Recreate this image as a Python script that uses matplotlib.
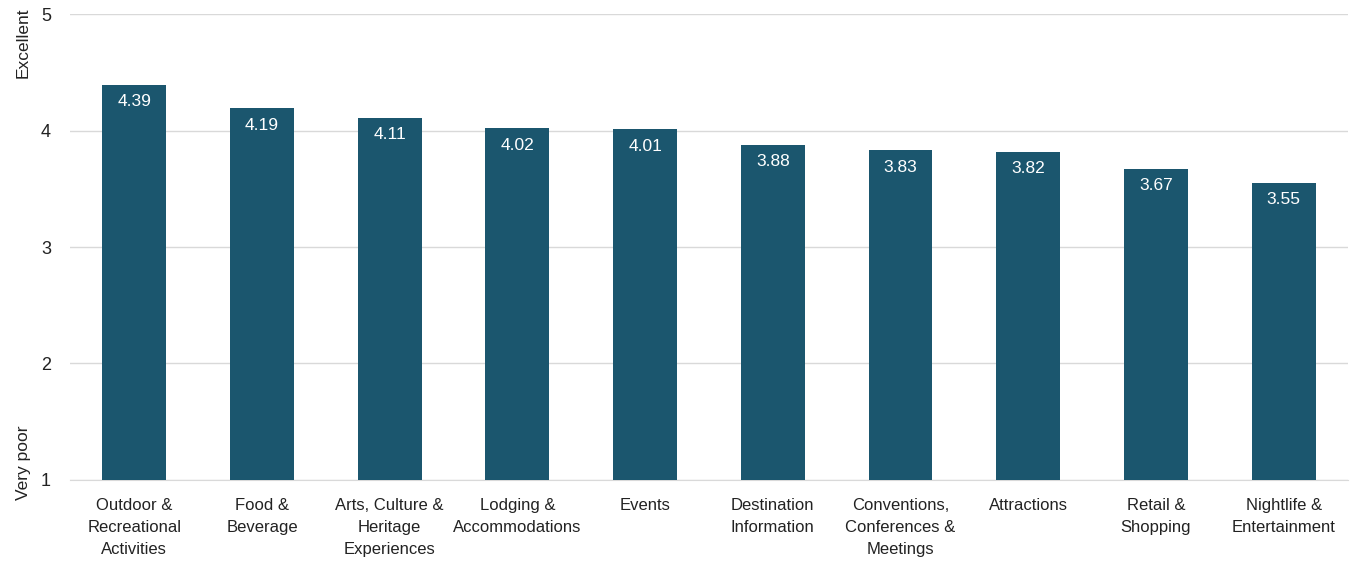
import matplotlib
matplotlib.use('Agg')
import matplotlib.pyplot as plt
from matplotlib import font_manager

categories = [
    'Outdoor &\nRecreational\nActivities',
    'Food &\nBeverage',
    'Arts, Culture &\nHeritage\nExperiences',
    'Lodging &\nAccommodations',
    'Events',
    'Destination\nInformation',
    'Conventions,\nConferences &\nMeetings',
    'Attractions',
    'Retail &\nShopping',
    'Nightlife &\nEntertainment',
]
ratings = [4.39, 4.19, 4.11, 4.02, 4.01, 3.88, 3.83, 3.82, 3.67, 3.55]
y_ticks = [1, 2, 3, 4, 5]

names = {f.name for f in font_manager.fontManager.ttflist}
family = 'Liberation Sans Narrow' if 'Liberation Sans Narrow' in names else 'Liberation Sans'
plt.rcParams['font.family'] = [family, 'DejaVu Sans']

bar_color = '#1b566e'
text_color = '#222222'

fig = plt.figure(figsize=(13.53, 5.64), dpi=100)
ax = fig.add_axes([0.052, 0.149, 0.944, 0.826])

x = range(len(categories))
ax.bar(x, [r - 1 for r in ratings], bottom=1, width=0.5, color=bar_color, zorder=3)

for xi, r in zip(x, ratings):
    ax.text(xi, r - 0.08, f'{r:.2f}', ha='center', va='top', color='white', fontsize=12.5)

ax.set_xlim(-0.5, len(categories) - 0.5)
ax.set_ylim(1, 5)
ax.set_yticks(y_ticks)
ax.set_yticklabels([str(t) for t in y_ticks], fontsize=13, color=text_color)
ax.set_xticks(list(x))
ax.set_xticklabels(categories, fontsize=12, color=text_color, linespacing=1.6)
ax.tick_params(axis='both', length=0)
ax.tick_params(axis='y', pad=14)
ax.tick_params(axis='x', pad=13)
ax.grid(axis='y', color='#d9d9d9', linewidth=1, zorder=0)
for side in ['top', 'right', 'left']:
    ax.spines[side].set_visible(False)
ax.spines['bottom'].set_color('#d9d9d9')

fig.text(0.017, 0.925, 'Excellent', rotation=90, ha='center', va='center', fontsize=12.5, color=text_color)
fig.text(0.017, 0.18, 'Very poor', rotation=90, ha='center', va='center', fontsize=12.5, color=text_color)

fig.savefig('out.png', dpi=100)
